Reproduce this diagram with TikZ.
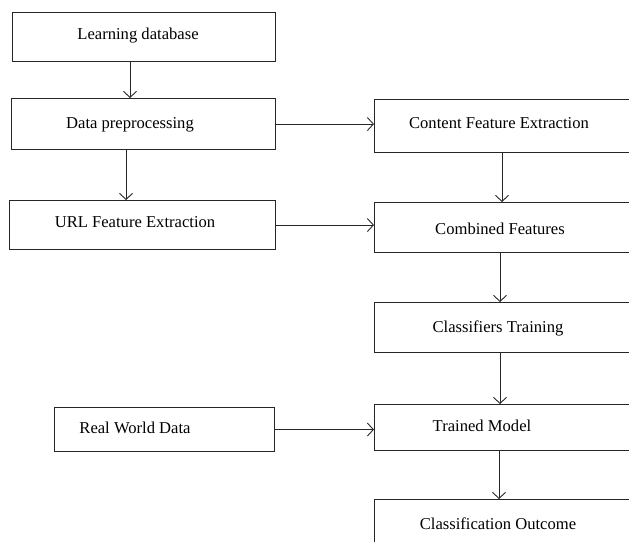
\documentclass[tikz,border=0pt]{standalone}
\usepackage{fontspec}
\setmainfont{Liberation Serif}
\usetikzlibrary{arrows.meta}
\begin{document}
\begin{tikzpicture}[x=1pt,y=-1pt,
  box/.style={draw=black!85, line width=1.1pt, rectangle, inner sep=0pt, anchor=north west},
  lbl/.style={font=\fontsize{16.6}{19}\selectfont, inner sep=0pt, text=black},
  arr/.style={draw=black!85, line width=0.9pt, -{Straight Barb[length=6pt,width=13pt,line width=0.9pt]}}]
\useasboundingbox (0,0) rectangle (629,541);
\clip (0,0) rectangle (629,541);
% boxes
\node[box, minimum width=263pt, minimum height=49pt] (ld) at (12,12) {};
\node[box, minimum width=264pt, minimum height=51pt] (dp) at (11,98) {};
\node[box, minimum width=266pt, minimum height=49pt] (url) at (9,200) {};
\node[box, minimum width=220pt, minimum height=44pt] (rwd) at (54,407) {};
\node[box, minimum width=262pt, minimum height=53pt] (cfe) at (374,99) {};
\node[box, minimum width=262pt, minimum height=50pt] (cf) at (374,202) {};
\node[box, minimum width=262pt, minimum height=50pt] (ct) at (374,302) {};
\node[box, minimum width=262pt, minimum height=46pt] (tm) at (374,404) {};
\node[box, minimum width=262pt, minimum height=60pt] (co) at (374,499) {};
% labels
\node[lbl] (tld) at (138,36) {Learning database};
\node[lbl] (tdp) at (130,125) {Data preprocessing};
\node[lbl] (turl) at (135,222) {URL Feature Extraction};
\node[lbl] (trwd) at (135,428) {Real World Data};
\node[lbl] (tcfe) at (499,123) {Content Feature Extraction};
\node[lbl] (tcf) at (500,229) {Combined Features};
\node[lbl] (tct) at (498,328) {Classifiers Training};
\node[lbl] (ttm) at (482,426) {Trained Model};
\node[lbl] (tco) at (498,524) {Classification Outcome};
% x positions of vertical connectors
\coordinate (x1) at (130,0);
\coordinate (x2) at (126,0);
\coordinate (x3) at (502,0);
\coordinate (x4) at (500,0);
\coordinate (x5) at (500,0);
\coordinate (x6) at (499,0);
% connectors
\draw[arr] (ld.south -| x1) -- (dp.north -| x1);
\draw[arr] (dp.south -| x2) -- (url.north -| x2);
\draw[arr] (dp.east) -- (dp.east -| cfe.west);
\draw[arr] (url.east) -- (url.east -| cf.west);
\draw[arr] (cfe.south -| x3) -- (cf.north -| x3);
\draw[arr] (cf.south -| x4) -- (ct.north -| x4);
\draw[arr] (ct.south -| x5) -- (tm.north -| x5);
\draw[arr] (tm.south -| x6) -- (co.north -| x6);
\draw[arr] (rwd.east) -- (rwd.east -| tm.west);
\end{tikzpicture}
\end{document}
